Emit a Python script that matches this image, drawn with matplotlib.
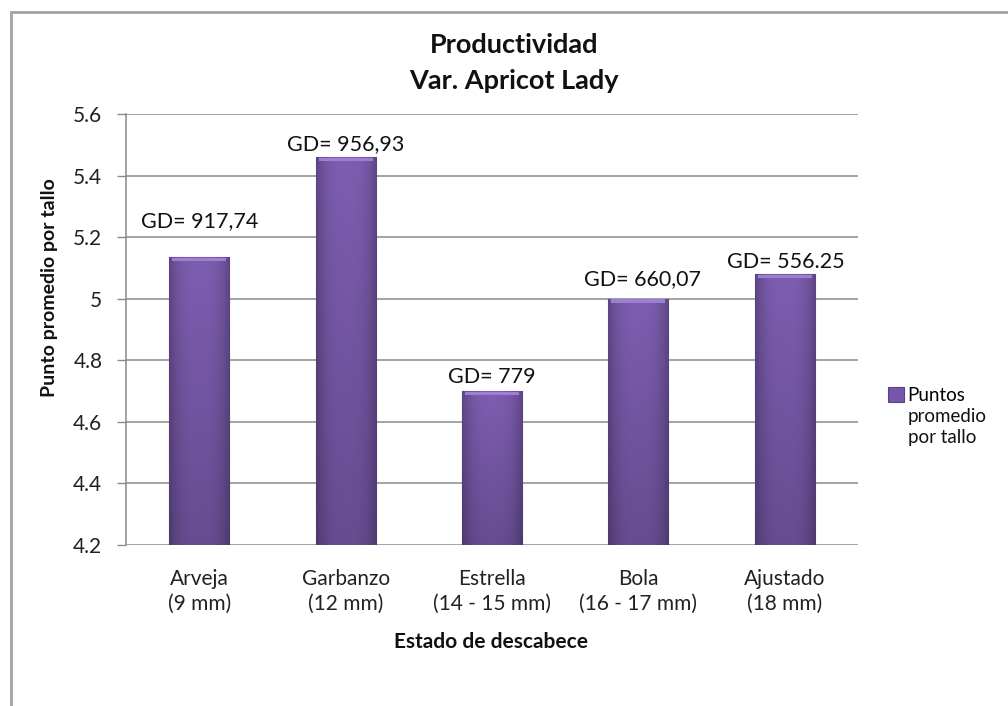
import numpy as np
import matplotlib.pyplot as plt
from matplotlib.patches import Rectangle

# Datos
categorias = ['Arveja\n(9 mm)', 'Garbanzo\n(12 mm)', 'Estrella\n(14 - 15 mm)',
              'Bola\n(16 - 17 mm)', 'Ajustado\n(18 mm)']
puntos = [5.135, 5.46, 4.70, 5.00, 5.08]
etiquetas_gd = ['GD= 917,74', 'GD= 956,93', 'GD= 779', 'GD= 660,07', 'GD= 556.25']
ticks_y = [4.2, 4.4, 4.6, 4.8, 5.0, 5.2, 5.4, 5.6]
ticks_y_txt = ['4.2', '4.4', '4.6', '4.8', '5', '5.2', '5.4', '5.6']
leyenda_lineas = ['Puntos', 'promedio', 'por tallo']

plt.rcParams['font.family'] = ['Lato', 'DejaVu Sans']

W, H = 1008, 706
fig = plt.figure(figsize=(W / 100, H / 100), dpi=100)

# Marco del grafico (cortado a la derecha y abajo, como en la imagen)
fig.patches.append(Rectangle((11 / W, -0.1), 1.2, 1.1 - 12 / H,
                             transform=fig.transFigure, fill=False,
                             edgecolor='#a3a3a3', linewidth=2))

ax = fig.add_axes([126 / W, 1 - 545 / H, (858 - 126) / W, (545 - 114) / H])

x = np.arange(len(categorias))
barras = ax.bar(x, puntos, width=0.41, color='#7556a8', edgecolor='#5b3f88',
                linewidth=0.8, zorder=3)

ax.set_xlim(-0.5, len(categorias) - 0.5)
ax.set_ylim(4.2, 5.6)

# degradado sobre cada barra (bordes y base mas oscuros, bisel claro arriba)
gx = np.linspace(-1, 1, 60)
gy = np.linspace(0, 1, 200)
shade = np.outer(0.82 + 0.18 * gy, 1 - 0.25 * np.abs(gx) ** 3)
base = np.array([0x7d, 0x5d, 0xb0]) / 255.0
img = np.clip(shade[..., None] * base, 0, 1)
for b in barras:
    x0, y0 = b.get_x(), b.get_y()
    w, h = b.get_width(), b.get_height()
    im = ax.imshow(img, extent=[x0, x0 + w, 4.2, y0 + h], origin='lower',
                   aspect='auto', zorder=4)
    im.set_clip_path(b)
    ax.bar(x0 + w / 2, 0.012, bottom=y0 + h - 0.014, width=w * 0.9,
           color='#9c80cf', linewidth=0, zorder=5)

# Etiquetas GD encima de cada barra
desfases = [(0, 21.5), (0, 5), (0, 5.5), (3, 9.7), (1, 4.5)]
for i, (v, txt) in enumerate(zip(puntos, etiquetas_gd)):
    ax.annotate(txt, (i, v), xytext=desfases[i], textcoords='offset points',
                ha='center', va='baseline', fontsize=15.5, color='#111111',
                zorder=6)

ax.set_yticks(ticks_y)
ax.set_yticklabels(ticks_y_txt, fontsize=15, color='#222222')
ax.set_xticks(x)
ax.set_xticklabels(categorias, fontsize=15, linespacing=1.35, color='#222222')
ax.tick_params(axis='x', length=0, pad=17)
ax.tick_params(axis='y', length=6.5, width=1, color='#8a8a8a', pad=10.5)
ax.grid(axis='y', color='#8a8a8a', linewidth=1.1, zorder=0)
for s in ['top', 'right', 'bottom']:
    ax.spines[s].set_visible(False)
ax.spines['left'].set_color('#8a8a8a')
ax.spines['left'].set_linewidth(1.1)

fig.text(491 / W, 1 - 642 / H, 'Estado de descabece', ha='center', va='center',
         fontsize=15, fontweight='bold', color='#111111')
fig.text(50 / W, 1 - 288 / H, 'Punto promedio por tallo', ha='center', va='center',
         rotation=90, fontsize=14, fontweight='bold', color='#111111')

fig.text(514 / W, 1 - 45 / H, 'Productividad', ha='center', va='center',
         fontsize=19.5, fontweight='bold', color='#111111')
fig.text(514 / W, 1 - 81 / H, 'Var. Apricot Lady', ha='center', va='center',
         fontsize=19.5, fontweight='bold', color='#111111')

# Leyenda: primera linea con el marcador, el resto alineado debajo
ax.legend([barras[0]], [leyenda_lineas[0]], loc='upper left',
          bbox_to_anchor=(888 / W, 1 - 387 / H), bbox_transform=fig.transFigure,
          frameon=False, fontsize=13.5, borderpad=0, borderaxespad=0,
          handlelength=0.85, handleheight=0.85, handletextpad=0.2)
fig.text(908 / W, 1 - 408 / H, '\n'.join(leyenda_lineas[1:]), ha='left', va='top',
         fontsize=13.5, linespacing=1.3, color='#111111')

fig.savefig('out.png', dpi=100)
